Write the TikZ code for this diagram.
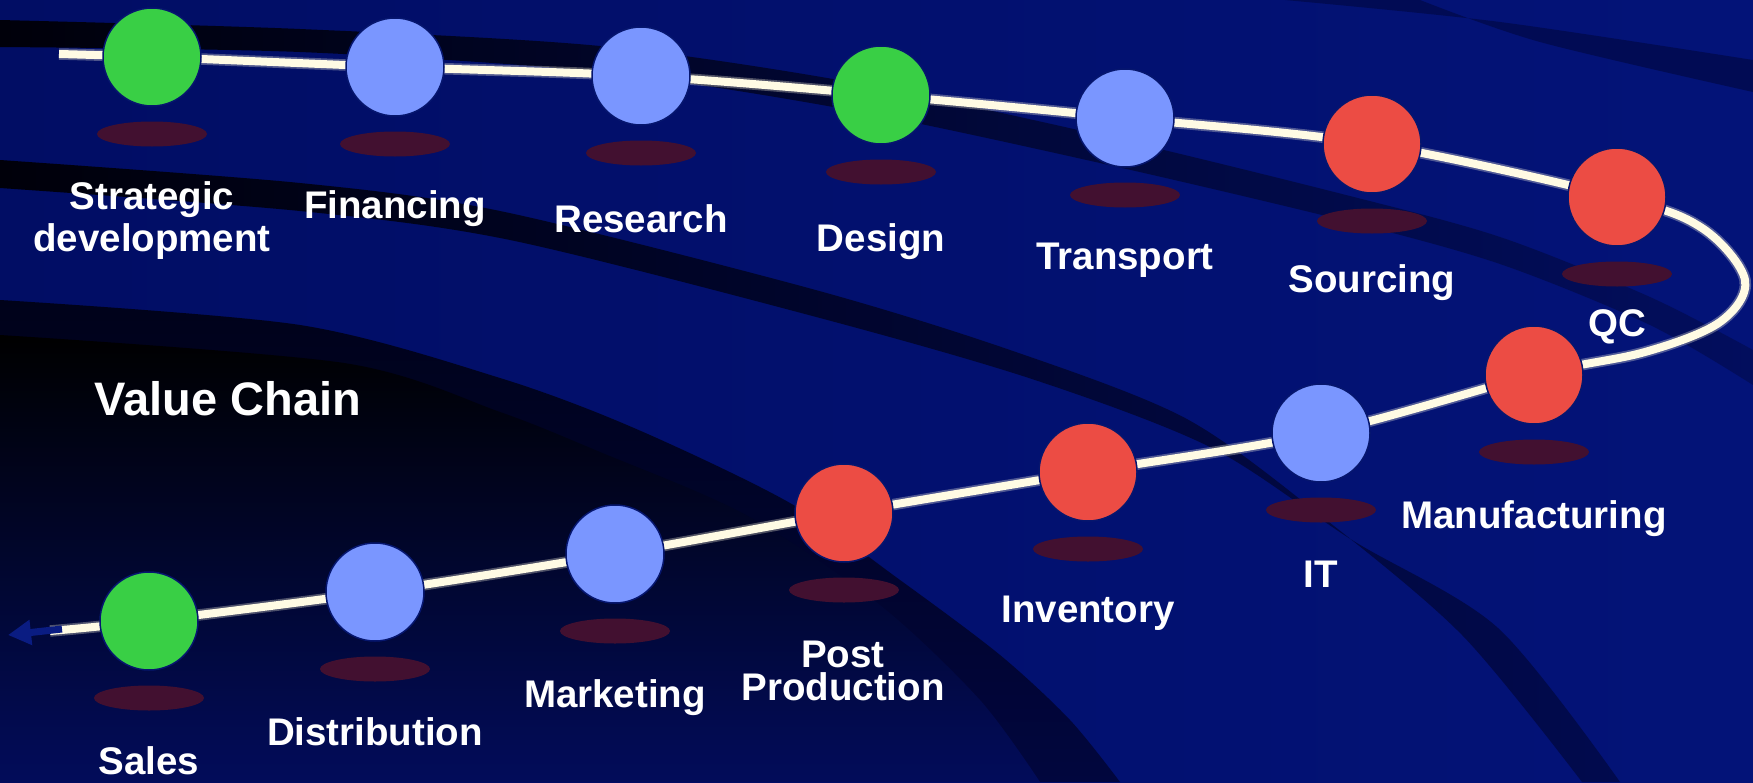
\documentclass[tikz,border=0pt]{standalone}
\usepackage{fontspec}
\setmainfont{Liberation Sans}
\usetikzlibrary{arrows.meta}
\definecolor{bgnavy}{RGB}{2,16,110}
\definecolor{bgnavyL}{RGB}{1,13,100}
\definecolor{bgnavyR}{RGB}{3,19,120}
\definecolor{bandL}{RGB}{0,0,10}
\definecolor{bandM}{RGB}{0,5,50}
\definecolor{bandR}{RGB}{1,10,78}
\definecolor{regionA}{RGB}{0,2,26}
\definecolor{regionO}{RGB}{1,6,62}
\definecolor{regionB}{RGB}{2,12,90}
\definecolor{regionM}{RGB}{0,2,30}
\definecolor{cgreen}{RGB}{57,207,69}
\definecolor{cblue}{RGB}{122,150,255}
\definecolor{cred}{RGB}{236,76,68}
\definecolor{shadowc}{RGB}{66,16,48}
\definecolor{rim}{RGB}{6,22,110}
\definecolor{trackc}{RGB}{255,251,228}
\definecolor{arrowc}{RGB}{10,28,130}
\begin{document}
\begin{tikzpicture}[x=1pt,y=-1pt,
  stage/.style={circle, minimum size=98pt, inner sep=0pt, draw=rim, line width=1.5pt},
  lbl/.style={text=white, font=\fontsize{38.5}{42}\selectfont\bfseries, align=center, inner sep=0pt},
  lbltight/.style={lbl, font=\fontsize{38.5}{33}\selectfont\bfseries},
  title/.style={text=white, font=\fontsize{47}{52}\selectfont\bfseries, inner sep=0pt},
  trackglow/.style={line width=11.5pt, trackc, opacity=0.3},
  trackline/.style={line width=8pt, trackc}]
\useasboundingbox (0,0) rectangle (1753,782);
% background
\shade[left color=bgnavyL, right color=bgnavyR] (0,0) rectangle (1753,782);
% faint top-right band
\fill[bandR!80!bgnavy] plot[smooth] coordinates {(1285,0) (1500,22) (1753,60)} -- plot[smooth] coordinates {(1753,92) (1540,42) (1420,0)} -- cycle;
% band A
\shade[left color=bandL, middle color=bandM, right color=bgnavy!85!black] plot[smooth] coordinates {(0,20) (300,29) (600,46) (850,82) (1100,135) (1342,194) (1500,237) (1650,297) (1753,350)} -- plot[smooth] coordinates {(1753,385) (1650,325) (1500,264) (1342,220) (1100,163) (850,110) (600,72) (300,52) (0,47)} -- cycle;
% band B
\shade[left color=bandL, middle color=bandM, right color=bandR] plot[smooth] coordinates {(0,160) (300,183) (500,211) (812,289) (1010,350) (1185,418) (1320,515) (1462,635) (1582,782)} -- plot[smooth] coordinates {(1620,782) (1498,628) (1352,540) (1212,448) (1035,380) (820,318) (510,240) (300,211) (0,188)} -- cycle;
% region C outer
\shade[top color=regionA, bottom color=regionO] plot[smooth] coordinates {(0,300) (300,325) (500,378) (634,428) (790,503) (900,580) (1000,655) (1070,720) (1120,782)} -- (0,782) -- cycle;
% region C inner
\shade[top color=black, middle color=regionM, bottom color=regionB] plot[smooth] coordinates {(0,335) (344,363) (500,412) (600,452) (746,515) (880,605) (980,700) (1040,782)} -- (0,782) -- cycle;
% stage positions
\foreach \i/\px/\py in {1/152/57, 2/395/67, 3/641/76, 4/881/95, 5/1125/118, 6/1372/144, 7/1617/197, 8/1534/375, 9/1321/433, 10/1088/472, 11/844/513, 12/615/554, 13/375/592, 14/149/621}
  \coordinate (c\i) at (\px,\py);
\coordinate (tstart) at (59,54);
\coordinate (tend) at (50,631);
% track
\foreach \s in {trackglow, trackline}
  \draw[\s] plot[smooth, tension=0.55] coordinates {(tstart) (c1) (c2) (c3) (c4) (c5) (c6) (c7) (1702,228) (1745,280) (1720,322) (1645,352) (c8) (c9) (c10) (c11) (c12) (c13) (c14) (tend)};
% arrow at the end
\coordinate (aS) at (62,629);
\coordinate (aT) at (8,635);
\draw[arrowc, line width=7pt, -{Triangle[length=23pt,width=24pt]}] (aS) -- (aT);
% shadows
\foreach \i in {1,...,14}
  \fill[shadowc] (c\i) ++(0,77) ellipse [x radius=55, y radius=12.5];
% stages
\foreach \i/\c in {1/cgreen, 2/cblue, 3/cblue, 4/cgreen, 5/cblue, 6/cred, 7/cred, 8/cred, 9/cblue, 10/cred, 11/cred, 12/cblue, 13/cblue, 14/cgreen}
  \node[stage, fill=\c] (n\i) at (c\i) {};
% labels
\node[lbl] (l1) at (152,221) {Strategic\\development};
\node[lbl] (l2) at (395,209) {Financing};
\node[lbl] (l3) at (641,219) {Research};
\node[lbl] (l4) at (881,242) {Design};
\node[lbl] (l5) at (1125,260) {Transport};
\node[lbl] (l6) at (1372,283) {Sourcing};
\node[lbl] (l7) at (1617,327) {QC};
\node[lbl] (l8) at (1534,519) {Manufacturing};
\node[lbl] (l9) at (1321,574) {IT};
\node[lbl] (l10) at (1088,613) {Inventory};
\node[lbltight] (l11) at (843,671) {Post\\Production};
\node[lbl] (l12) at (615,698) {Marketing};
\node[lbl] (l13) at (375,732) {Distribution};
\node[lbl] (l14) at (149,761) {Sales};
\node[title] (vc) at (228,399) {Value Chain};
\end{tikzpicture}
\end{document}
